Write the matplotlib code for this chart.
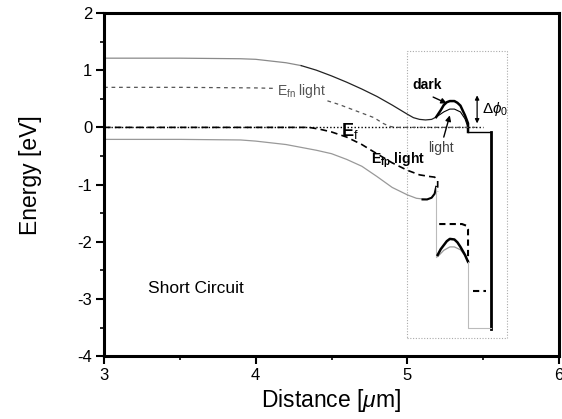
import matplotlib
matplotlib.use("Agg")
import matplotlib.pyplot as plt
from matplotlib.ticker import MultipleLocator

plt.rcParams['font.family'] = ['Liberation Sans', 'DejaVu Sans']
plt.rcParams['mathtext.fontset'] = 'custom'
plt.rcParams['mathtext.rm'] = 'Liberation Sans'
plt.rcParams['mathtext.it'] = 'Liberation Sans:italic'
plt.rcParams['mathtext.bf'] = 'Liberation Sans:bold'
plt.rcParams['axes.unicode_minus'] = False

# ---- data ----
cb_gray_x = [3.0, 3.5, 3.9, 4.0, 4.1, 4.2, 4.3]
cb_gray_y = [1.21, 1.21, 1.20, 1.19, 1.16, 1.13, 1.08]
cb_dark_x = [4.3, 4.4, 4.5, 4.6, 4.7, 4.8, 4.9, 4.95, 5.0, 5.04, 5.08, 5.12, 5.16, 5.19]
cb_dark_y = [1.08, 1.0, 0.9, 0.79, 0.67, 0.54, 0.39, 0.31, 0.23, 0.17, 0.14, 0.13, 0.14, 0.18]
hump_dark_x = [5.19, 5.22, 5.24, 5.26, 5.28, 5.31, 5.33, 5.35, 5.38, 5.40, 5.40]
hump_dark_y = [0.18, 0.30, 0.39, 0.44, 0.46, 0.46, 0.43, 0.38, 0.21, 0.07, -0.08]
hump_light_x = [5.19, 5.24, 5.28, 5.31, 5.35, 5.38, 5.40]
hump_light_y = [0.18, 0.27, 0.32, 0.32, 0.27, 0.15, 0.0]
contact_flat_x = [5.40, 5.55]
contact_flat_y = [-0.08, -0.08]
contact_drop_x = [5.55, 5.55]
contact_drop_y = [-0.08, -3.52]

ef_x = [3.0, 5.5]
ef_y = [0.0, 0.0]
efp_x = [3.0, 4.35, 4.42, 4.5, 4.6, 4.7, 4.78, 4.9, 5.0, 5.08, 5.15, 5.18, 5.20, 5.20]
efp_y = [0.0, 0.0, -0.03, -0.08, -0.17, -0.30, -0.43, -0.62, -0.75, -0.83, -0.86, -0.87, -0.92, -1.13]
efn_x = [3.0, 3.5, 4.0, 4.15, 4.3, 4.43, 4.55, 4.62, 4.7, 4.78, 4.84, 4.88, 4.92, 5.45]
efn_y = [0.70, 0.70, 0.69, 0.68, 0.60, 0.50, 0.40, 0.33, 0.25, 0.17, 0.07, 0.02, 0.0, 0.0]

vb_x = [3.0, 3.5, 3.9, 4.0, 4.2, 4.4, 4.5, 4.6, 4.7, 4.8, 4.9, 5.0, 5.06, 5.13]
vb_y = [-0.21, -0.21, -0.22, -0.24, -0.30, -0.40, -0.46, -0.56, -0.68, -0.86, -1.05, -1.18, -1.24, -1.26]
vb_hook_x = [5.10, 5.13, 5.16, 5.18, 5.19]
vb_hook_y = [-1.26, -1.26, -1.23, -1.16, -1.04]
vb_drop_x = [5.19, 5.19]
vb_drop_y = [-1.04, -2.26]

arch_dark_x = [5.20, 5.22, 5.24, 5.26, 5.28, 5.31, 5.33, 5.35, 5.38, 5.40]
arch_dark_y = [-2.23, -2.13, -2.06, -1.99, -1.95, -1.96, -2.01, -2.09, -2.23, -2.35]
arch_gray_x = [5.20, 5.24, 5.28, 5.31, 5.35, 5.38, 5.40]
arch_gray_y = [-2.26, -2.15, -2.09, -2.09, -2.14, -2.24, -2.35]
efp2_x = [5.21, 5.36, 5.39, 5.40, 5.40]
efp2_y = [-1.69, -1.69, -1.72, -1.78, -2.35]
gray3_x = [5.40, 5.40, 5.55]
gray3_y = [-2.35, -3.51, -3.51]
efp3_x = [5.43, 5.52]
efp3_y = [-2.86, -2.86]

box_x = [5.0, 5.66, 5.66, 5.0, 5.0]
box_y = [-3.69, -3.69, 1.33, 1.33, -3.69]

xticks = [3, 4, 5, 6]
yticks = [-4, -3, -2, -1, 0, 1, 2]

# ---- figure ----
fig = plt.figure(figsize=(5.62, 4.19), dpi=100)
ax = fig.add_axes([0.1851, 0.150, 0.8096, 0.819])

gray = '#8a8a8a'
ax.plot(box_x, box_y, color='#aaaaaa', lw=0.8, ls=(0, (1, 1.5)))

ax.plot(cb_gray_x, cb_gray_y, color=gray, lw=0.9)
ax.plot(cb_dark_x, cb_dark_y, color='#222222', lw=0.9)
ax.plot(hump_dark_x, hump_dark_y, color='black', lw=1.8)
ax.plot(hump_light_x, hump_light_y, color='black', lw=0.8)
ax.plot(contact_flat_x, contact_flat_y, color='black', lw=1.0)
ax.plot(contact_drop_x, contact_drop_y, color='black', lw=2.0)

ax.plot(ef_x, ef_y, color='black', lw=1.0, ls=(0, (1, 1.5)))
ax.plot(efn_x, efn_y, color='#555555', lw=0.9, ls=(0, (3, 3)))
ax.plot(efp_x, efp_y, color='black', lw=1.2, ls=(0, (4, 2.5)))

ax.plot(vb_x, vb_y, color='#999999', lw=0.9)
ax.plot(vb_hook_x, vb_hook_y, color='black', lw=1.5)
ax.plot(vb_drop_x, vb_drop_y, color='#bbbbbb', lw=0.8)
ax.plot(arch_gray_x, arch_gray_y, color='#999999', lw=0.9)
ax.plot(arch_dark_x, arch_dark_y, color='black', lw=1.8)
ax.plot(efp2_x, efp2_y, color='black', lw=1.5, ls=(0, (3, 2)))
ax.plot(gray3_x, gray3_y, color='#bbbbbb', lw=0.8)
ax.plot(efp3_x, efp3_y, color='black', lw=1.5, ls=(0, (3, 2)))

# ---- labels ----
ax.text(4.14, 0.63, r'E$_{\rm fn}$ light', color='#555555', fontsize=10,
        ha='left', va='center',
        bbox=dict(facecolor='white', edgecolor='none', pad=0.5))
ax.text(4.56, -0.06, r'E$_{\rm f}$', fontsize=13, fontweight='bold',
        ha='left', va='center')
ax.text(4.76, -0.58, r'E$_{\mathbf{fp}}$ light', fontsize=10, fontweight='bold',
        ha='left', va='center')
ax.text(5.03, 0.74, 'dark', fontsize=10, fontweight='bold', ha='left', va='center')
ax.text(5.22, -0.36, 'light', fontsize=10, color='#444444', ha='center', va='center')
ax.text(5.49, 0.32, r'$\Delta\phi_0$', fontsize=11, ha='left', va='center')
ax.text(3.29, -2.81, 'Short Circuit', fontsize=12.5, ha='left', va='center')

ax.annotate('', xy=(5.26, 0.42), xytext=(5.17, 0.53),
            arrowprops=dict(arrowstyle='-|>', color='black', lw=1.0,
                            mutation_scale=8, shrinkA=0, shrinkB=0))
ax.annotate('', xy=(5.28, 0.21), xytext=(5.24, -0.17),
            arrowprops=dict(arrowstyle='-|>', color='black', lw=1.0,
                            mutation_scale=8, shrinkA=0, shrinkB=0))
ax.annotate('', xy=(5.46, 0.56), xytext=(5.46, 0.07),
            arrowprops=dict(arrowstyle='<|-|>', color='black', lw=0.9,
                            mutation_scale=6, shrinkA=0, shrinkB=0))

# ---- axes ----
ax.set_xlim(3, 6)
ax.set_ylim(-4, 2)
ax.set_xticks(xticks)
ax.set_yticks(yticks)
ax.xaxis.set_minor_locator(MultipleLocator(0.5))
ax.yaxis.set_minor_locator(MultipleLocator(0.5))
ax.tick_params(which='major', direction='out', length=5.8, width=1.5, labelsize=12, pad=2.5)
ax.tick_params(which='minor', direction='out', length=3, width=1.2)
for s in ['left', 'bottom', 'top', 'right']:
    ax.spines[s].set_linewidth(2.2)

fig.text(331 / 562, 1 - 400 / 419, r'Distance [$\mu$m]', fontsize=16.5,
         ha='center', va='center')
fig.text(30 / 562, 1 - 175 / 419, 'Energy [eV]', fontsize=16.5,
         ha='center', va='center', rotation=90)

fig.savefig('out.png', dpi=100)
